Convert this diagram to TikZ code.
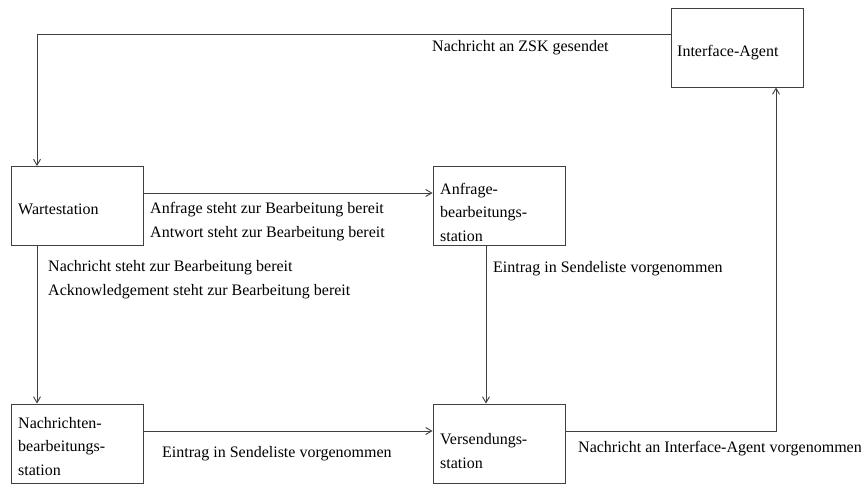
\documentclass[tikz,border=0pt]{standalone}
\usepackage{fontspec}
\setmainfont{Liberation Serif}
\usetikzlibrary{arrows.meta}
\begin{document}
\begin{tikzpicture}[x=1pt,y=-1pt,
  box/.style={draw=black!75, line width=0.9pt, rectangle, inner sep=0pt, minimum width=132pt, minimum height=79pt},
  txt/.style={anchor=base west, inner sep=0pt, font=\fontsize{16}{23.5}\selectfont, align=left},
  conn/.style={draw=black!75, line width=0.9pt, -{Straight Barb[length=6pt,width=7pt]}}]
\useasboundingbox (0,0) rectangle (861,484);
% boxes
\node[box] (ia) at (737,47.5) {};
\node[box] (ws) at (77,206) {};
\node[box] (ab) at (499,206) {};
\node[box] (nb) at (77,443.5) {};
\node[box] (vs) at (499,443.5) {};
% box texts (base = last line)
\node[txt] (iat) at (677,56.5) {Interface-Agent};
\node[txt] (wst) at (18,214) {Wartestation};
\node[txt] (abt) at (440,241) {Anfrage-\\bearbeitungs-\\station};
\node[txt] (nbt) at (18,475) {Nachrichten-\\bearbeitungs-\\station};
\node[txt] (vst) at (440,468) {Versendungs-\\station};
% connectors
\draw[conn] ([yshift=13.5pt]ia.west) -| ([xshift=-40pt]ws.north);
\draw[conn] ([yshift=13pt]ws.east) -- ([yshift=13pt]ab.west);
\draw[conn] ([xshift=-40pt]ws.south) -- ([xshift=-40pt]nb.north);
\draw[conn] ([xshift=-13pt]ab.south) -- ([xshift=-13pt]vs.north);
\draw[conn] ([yshift=12.5pt]nb.east) -- ([yshift=12.5pt]vs.west);
\draw[conn] ([yshift=12.5pt]vs.east) -| ([xshift=39pt]ia.south);
% connector labels
\node[txt] (l1) at (432,52) {Nachricht an ZSK gesendet};
\node[txt] (l2) at (150,237) {Anfrage steht zur Bearbeitung bereit\\Antwort steht zur Bearbeitung bereit};
\node[txt] (l3) at (48,295) {Nachricht steht zur Bearbeitung bereit\\Acknowledgement steht zur Bearbeitung bereit};
\node[txt] (l4) at (493,272) {Eintrag in Sendeliste vorgenommen};
\node[txt] (l5) at (162,457) {Eintrag in Sendeliste vorgenommen};
\node[txt] (l6) at (578,452) {Nachricht an Interface-Agent vorgenommen};
\end{tikzpicture}
\end{document}
